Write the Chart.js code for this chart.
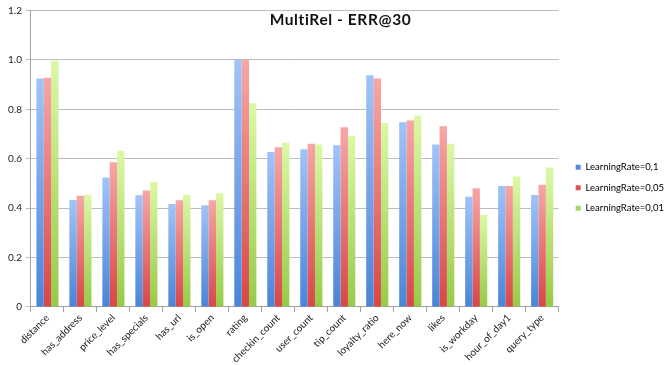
<!DOCTYPE html>
<html>
<head>
<meta charset="utf-8">
<script src="https://cdn.jsdelivr.net/npm/chart.js@4/dist/chart.umd.min.js"></script>
<style>
  html, body { margin: 0; padding: 0; background: #fff; }
  #wrap { width: 665px; height: 365px; }
</style>
</head>
<body>
<div id="wrap"><canvas id="errChart" width="665" height="365"></canvas></div>
<script>
// features
const features = ['distance', 'has_address', 'price_level', 'has_specials', 'has_url', 'is_open',
  'rating', 'checkin_count', 'user_count', 'tip_count', 'loyalty_ratio', 'here_now',
  'likes', 'is_workday', 'hour_of_day1', 'query_type'];

// ERR@30 per learning rate
const lr01 = [0.925, 0.433, 0.524, 0.452, 0.417, 0.412, 1.0, 0.627, 0.638, 0.654, 0.938, 0.748, 0.657, 0.446, 0.489, 0.453];
const lr005 = [0.928, 0.450, 0.586, 0.471, 0.432, 0.432, 1.0, 0.646, 0.661, 0.727, 0.925, 0.755, 0.731, 0.480, 0.489, 0.495];
const lr001 = [0.997, 0.454, 0.632, 0.506, 0.454, 0.460, 0.825, 0.666, 0.657, 0.692, 0.745, 0.775, 0.661, 0.373, 0.528, 0.564];

const yTicks = [0, 0.2, 0.4, 0.6, 0.8, 1, 1.2];

const FONT = 'Lato, "Open Sans", sans-serif';

// vertical gradient per bar, light at the top and darker at the base
function barFill(light, dark) {
  return (ctx) => {
    const chart = ctx.chart;
    const y = chart.scales && chart.scales.y;
    if (!y || ctx.raw === undefined) return dark;
    const top = y.getPixelForValue(ctx.raw);
    const bottom = y.getPixelForValue(0);
    if (!isFinite(top) || !isFinite(bottom) || top === bottom) return dark;
    const g = chart.ctx.createLinearGradient(0, top, 0, bottom);
    g.addColorStop(0, light);
    g.addColorStop(1, dark);
    return g;
  };
}

// chart title sits inside the plot, over the top gridlines
const titleInside = {
  id: 'titleInside',
  afterDraw(chart) {
    const c = chart.ctx;
    c.save();
    c.font = 'bold 15.5px ' + FONT;
    if ('letterSpacing' in c) c.letterSpacing = '0.6px';
    c.fillStyle = '#111';
    c.textAlign = 'center';
    c.textBaseline = 'middle';
    c.fillText('MultiRel - ERR@30', chart.width / 2 + 8, chart.chartArea.top + 9.5);
    c.restore();
  }
};

new Chart(document.getElementById('errChart'), {
  type: 'bar',
  data: {
    labels: features,
    datasets: [
      { label: 'LearningRate=0,1', data: lr01, backgroundColor: barFill('#a2c3f7', '#4a84d8'), legendColor: '#4f8be0' },
      { label: 'LearningRate=0,05', data: lr005, backgroundColor: barFill('#f8a6a6', '#d94646'), legendColor: '#e05252' },
      { label: 'LearningRate=0,01', data: lr001, backgroundColor: barFill('#dcf8a6', '#97ca48'), legendColor: '#a8d860' }
    ]
  },
  options: {
    responsive: false,
    animation: false,
    devicePixelRatio: 1,
    datasets: { bar: { barPercentage: 1, categoryPercentage: 0.67 } },
    layout: { padding: { top: 10.5, left: 4, right: -9, bottom: 0 } },
    plugins: {
      title: { display: false },
      tooltip: { enabled: false },
      legend: {
        position: 'right',
        labels: {
          boxWidth: 5,
          boxHeight: 5,
          padding: 11,
          color: '#222',
          font: { family: FONT, size: 9.5 },
          generateLabels(chart) {
            return chart.data.datasets.map((ds, i) => ({
              text: ds.label,
              fillStyle: ds.legendColor,
              strokeStyle: ds.legendColor,
              lineWidth: 0,
              datasetIndex: i,
              hidden: false
            }));
          }
        }
      }
    },
    scales: {
      x: {
        grid: { drawOnChartArea: false, drawTicks: true, tickLength: 5, color: '#a0a0a0', offset: true },
        border: { color: '#a0a0a0' },
        ticks: {
          minRotation: 45, maxRotation: 45, autoSkip: false,
          color: '#222', font: { family: FONT, size: 10 }, padding: 0
        }
      },
      y: {
        min: 0, max: 1.2,
        afterBuildTicks(axis) { axis.ticks = yTicks.map(v => ({ value: v })); },
        grid: { color: '#bdbdbd', tickLength: 5, drawTicks: true },
        border: { color: '#a0a0a0' },
        ticks: { color: '#222', font: { family: FONT, size: 10 }, padding: 4 }
      },
      // empty strip between the plot and the legend
      gap: {
        type: 'linear',
        axis: 'y',
        position: 'right',
        display: true,
        grid: { display: false },
        border: { display: false },
        ticks: { display: false },
        afterFit(scale) { scale.width = 6; }
      }
    }
  },
  plugins: [titleInside]
});
</script>
</body>
</html>
